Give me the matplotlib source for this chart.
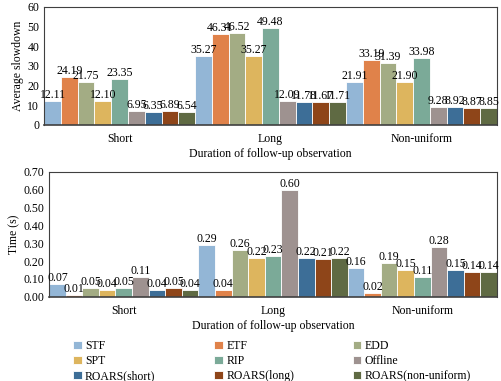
import matplotlib.pyplot as plt
import numpy as np

plt.rcParams['font.family'] = ['Liberation Serif', 'DejaVu Serif']

# データ
groups = ["Short", "Long", "Non-uniform"]
methods = ["STF", "ETF", "EDD", "SPT", "RIP", "Offline",
           "ROARS(short)", "ROARS(long)", "ROARS(non-uniform)"]
colors = ["#93B6D6", "#E0824A", "#A3AC84", "#DDB55E", "#7BAA98",
          "#9E9290", "#3D6E97", "#8E4519", "#5F6A43"]

slowdown = [
    [12.11, 24.19, 21.75, 12.10, 23.35, 6.95, 6.35, 6.89, 6.54],
    [35.27, 46.31, 46.52, 35.27, 49.48, 12.09, 11.78, 11.67, 11.71],
    [21.91, 33.19, 31.39, 21.90, 33.98, 9.28, 8.92, 8.87, 8.85],
]
time_s = [
    [0.07, 0.01, 0.05, 0.04, 0.05, 0.11, 0.04, 0.05, 0.04],
    [0.29, 0.04, 0.26, 0.22, 0.23, 0.60, 0.22, 0.21, 0.22],
    [0.16, 0.02, 0.19, 0.15, 0.11, 0.28, 0.15, 0.14, 0.14],
]

fig = plt.figure(figsize=(5.01, 3.81), dpi=100)
ax1 = fig.add_axes([0.088, 0.672, 0.904, 0.310])
ax2 = fig.add_axes([0.098, 0.221, 0.894, 0.328])

n = len(methods)
w = 1.0 / n


def draw(ax, data, ymax, step, fmt):
    for j in range(n):
        xs = np.arange(len(groups)) + (j + 0.5) * w
        vals = [data[i][j] for i in range(len(groups))]
        bars = ax.bar(xs, vals, width=w, color=colors[j], edgecolor="white",
                      linewidth=0.6, label=methods[j])
        for b, v in zip(bars, vals):
            ax.text(b.get_x() + b.get_width() / 2, v, fmt.format(v),
                    ha="center", va="bottom", fontsize=8.5)
    ax.set_xlim(0, len(groups))
    ax.set_ylim(0, ymax)
    ax.set_yticks(np.arange(0, ymax + step / 2, step))
    ax.set_xticks(np.arange(len(groups)) + 0.5)
    ax.set_xticklabels(groups, fontsize=8.5)
    ax.tick_params(axis="both", length=0, labelsize=8.5)
    ax.tick_params(axis="x", pad=6)
    for s in ax.spines.values():
        s.set_color("#404040")
        s.set_linewidth(0.8)
    ax.spines["bottom"].set_linewidth(1.2)
    ax.set_xlabel("Duration of follow-up observation", fontsize=8.5, labelpad=2)


draw(ax1, slowdown, 60, 10, "{:.2f}")
ax1.set_ylabel("Average slowdown", fontsize=8.5, labelpad=2)
ax1.set_yticklabels([str(int(v)) for v in np.arange(0, 61, 10)])

draw(ax2, time_s, 0.70, 0.10, "{:.2f}")
ax2.set_ylabel("Time (s)", fontsize=8.5, labelpad=2)
ax2.set_yticklabels(["%.2f" % v for v in np.arange(0, 0.71, 0.10)])

h, l = ax2.get_legend_handles_labels()
# 行ごとに並べるため順番を入れ替え
order = [0, 3, 6, 1, 4, 7, 2, 5, 8]
fig.legend([h[i] for i in order], [l[i] for i in order], ncol=3,
           loc="lower left", bbox_to_anchor=(0.125, -0.03), frameon=False,
           fontsize=8.5, handlelength=0.7, handleheight=0.7,
           handletextpad=0.3, columnspacing=5.0, labelspacing=0.25)

plt.savefig("out.png", dpi=100)
